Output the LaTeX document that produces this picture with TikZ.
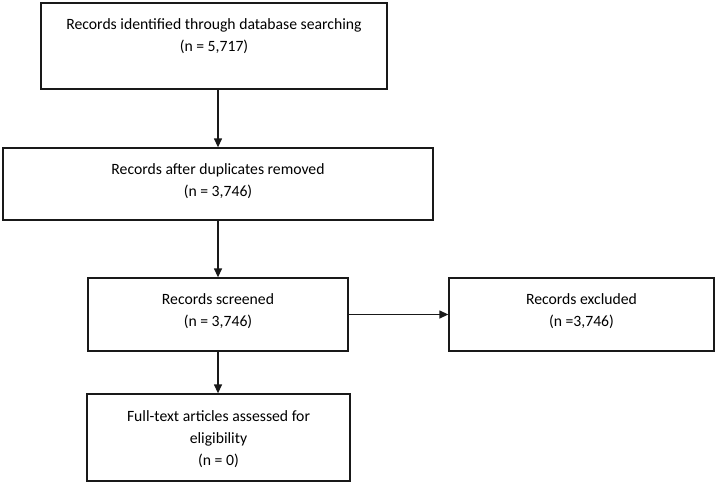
\documentclass[tikz,border=0pt]{standalone}
\usepackage{fontspec}
\setmainfont{Carlito}
\usetikzlibrary{arrows.meta}
\begin{document}
\begin{tikzpicture}[x=1pt,y=-1pt,
  box/.style={draw=black!90, line width=1.3pt, rectangle, inner sep=0pt},
  txt/.style={align=center, inner sep=0pt, font=\fontsize{15.7}{22}\selectfont},
  arr/.style={draw=black!90, line width=1.3pt, -{Triangle[length=9pt,width=8pt]}}]
\useasboundingbox (0,0) rectangle (718,485);
% boxes
\node[box, minimum width=346pt, minimum height=86pt] (A) at (214,46) {};
\node[box, minimum width=430pt, minimum height=72pt] (B) at (218,184) {};
\node[box, minimum width=260pt, minimum height=73pt] (C) at (218,314.5) {};
\node[box, minimum width=265pt, minimum height=73pt] (D) at (581.5,314.5) {};
\node[box, minimum width=263pt, minimum height=87pt] (E) at (218.5,437.5) {};
% texts
\node[txt] (At) at (214,36.5) {Records identified through database searching\\(n = 5,717)};
\node[txt] (Bt) at (218,181.5) {Records after duplicates removed\\(n = 3,746)};
\node[txt] (Ct) at (218,311.5) {Records screened\\(n = 3,746)};
\node[txt] (Dt) at (581.5,311.5) {Records excluded\\(n =3,746)};
\node[txt] (Et) at (218.5,439.5) {Full-text articles assessed for\\eligibility\\(n = 0)};
% connectors
\draw[arr] (B.north |- A.south) -- (B.north);
\draw[arr] (B.south) -- (C.north);
\draw[arr] (C.east) -- (D.west);
\draw[arr] (C.south) -- (E.north -| C.south);
\end{tikzpicture}
\end{document}
